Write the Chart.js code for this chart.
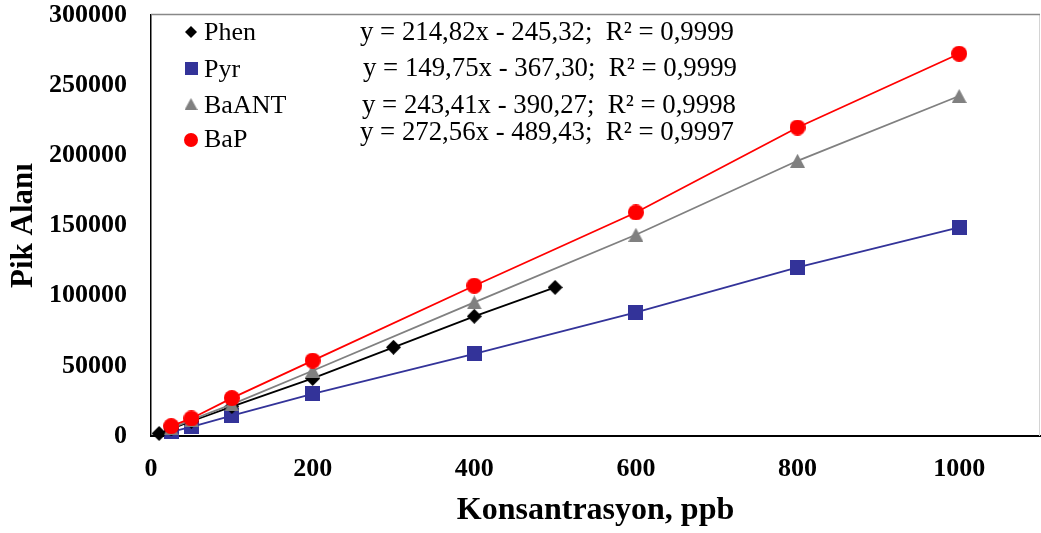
<!DOCTYPE html>
<html>
<head>
<meta charset="utf-8">
<script src="https://cdn.jsdelivr.net/npm/chart.js@4.4.1/dist/chart.umd.min.js"></script>
<style>
html,body{margin:0;padding:0;background:#fff;}
#wrap{width:1041px;height:533px;position:relative;}
</style>
</head>
<body>
<div id="wrap"><canvas id="c" width="1041" height="533"></canvas></div>
<script>
// ---- data ----
const seriesNames = ['Phen', 'Pyr', 'BaANT', 'BaP'];
const equations = [
  'y = 214,82x - 245,32;  R\u00B2 = 0,9999',
  'y = 149,75x - 367,30;  R\u00B2 = 0,9999',
  'y = 243,41x - 390,27;  R\u00B2 = 0,9998',
  'y = 272,56x - 489,43;  R\u00B2 = 0,9997'
];
const phenX  = [10, 25, 50, 100, 200, 300, 400, 500];
const phenY  = [1800, 5000, 10500, 21000, 41000, 63200, 85300, 105900];
const pyrX   = [25, 50, 100, 200, 400, 600, 800, 1000];
const pyrY   = [3000, 6500, 14500, 30000, 58500, 88100, 120100, 148600];
const baantX = [25, 50, 100, 200, 400, 600, 800, 1000];
const baantY = [5500, 11500, 22500, 46500, 95200, 143400, 196100, 242300];
const bapX   = [25, 50, 100, 200, 400, 600, 800, 1000];
const bapY   = [7000, 12500, 27000, 53700, 107100, 159300, 219800, 272400];
const xTickValues = [0, 200, 400, 600, 800, 1000];
const yTickValues = [0, 50000, 100000, 150000, 200000, 250000, 300000];
const xTitle = 'Konsantrasyon, ppb';
const yTitle = 'Pik Alanı';

const colors = ['#000000', '#333399', '#808080', '#FF0000'];
const FONT = '"Liberation Serif", "Times New Roman", serif';

// ---- marker images ----
function makeMarker(shape, w, h, color) {
  const c = document.createElement('canvas');
  c.width = w; c.height = h;
  const g = c.getContext('2d');
  g.fillStyle = color;
  g.beginPath();
  if (shape === 'diamond') {
    g.moveTo(w / 2, 0); g.lineTo(w, h / 2); g.lineTo(w / 2, h); g.lineTo(0, h / 2);
  } else if (shape === 'square') {
    g.rect(0, 0, w, h);
  } else if (shape === 'triangle') {
    g.moveTo(w / 2, 0); g.lineTo(w, h); g.lineTo(0, h);
  } else {
    g.arc(w / 2, h / 2, w / 2, 0, Math.PI * 2);
  }
  g.closePath();
  g.fill();
  return c;
}
const shapes = ['diamond', 'square', 'triangle', 'circle'];
const pointSizes = [[15, 15], [15, 15], [15, 14], [16, 16]];
const legendSizes = [[12, 12], [13, 13], [13, 12], [14, 14]];
const pointImgs = shapes.map((s, i) => makeMarker(s, pointSizes[i][0], pointSizes[i][1], colors[i]));
const legendImgs = shapes.map((s, i) => makeMarker(s, legendSizes[i][0], legendSizes[i][1], colors[i]));

function pts(xs, ys) { return xs.map((x, i) => ({ x: x, y: ys[i] })); }
const seriesData = [pts(phenX, phenY), pts(pyrX, pyrY), pts(baantX, baantY), pts(bapX, bapY)];
const drawOrder = [2, 3, 1, 0]; // BaP on top, then BaANT, Phen, Pyr

const datasets = seriesNames.map((n, i) => ({
  label: n,
  data: seriesData[i],
  showLine: true,
  borderColor: colors[i],
  backgroundColor: colors[i],
  borderWidth: 1.8,
  pointStyle: pointImgs[i],
  pointRadius: 7,
  pointHoverRadius: 7,
  tension: 0,
  order: drawOrder[i],
  clip: false
}));

// ---- plugins ----
const framePlugin = {
  id: 'frame',
  beforeDatasetsDraw(chart) {
    const a = chart.chartArea, ctx = chart.ctx;
    ctx.save();
    ctx.strokeStyle = '#d4d4d4'; ctx.lineWidth = 1;
    ctx.beginPath(); ctx.moveTo(a.right - 0.5, a.top); ctx.lineTo(a.right - 0.5, a.bottom); ctx.stroke();
    ctx.strokeStyle = '#888888'; ctx.lineWidth = 1.5;
    ctx.beginPath(); ctx.moveTo(a.left, a.top - 0.5); ctx.lineTo(a.right, a.top - 0.5); ctx.stroke();
    ctx.restore();
  }
};

const legendRows = [
  { my: 32, ty: 40, ex: 360, ey: 40 },
  { my: 68, ty: 77, ex: 363, ey: 76 },
  { my: 104, ty: 113, ex: 362, ey: 113 },
  { my: 140, ty: 147, ex: 360, ey: 140 }
];
const legendPlugin = {
  id: 'eqLegend',
  afterDraw(chart) {
    const ctx = chart.ctx;
    ctx.save();
    ctx.fillStyle = '#000';
    ctx.textBaseline = 'alphabetic';
    ctx.textAlign = 'left';
    seriesNames.forEach((n, i) => {
      const r = legendRows[i];
      const img = legendImgs[i];
      ctx.drawImage(img, 191 - img.width / 2, r.my - img.height / 2);
      ctx.font = '26px ' + FONT;
      ctx.fillText(n, 204, r.ty);
      ctx.font = '26.8px ' + FONT;
      ctx.fillText(equations[i], r.ex, r.ey);
    });
    ctx.restore();
  }
};

new Chart(document.getElementById('c'), {
  type: 'scatter',
  data: { datasets: datasets },
  options: {
    responsive: false,
    devicePixelRatio: 1,
    animation: false,
    layout: { autoPadding: false, padding: { top: 15, right: 1, left: 0, bottom: 0 } },
    plugins: { legend: { display: false }, tooltip: { enabled: false } },
    scales: {
      x: {
        type: 'linear',
        min: 0, max: 1100,
        afterFit(s) { s.height = 97; s.paddingLeft = 0; s.paddingRight = 0; s.paddingTop = 0; s.paddingBottom = 0; },
        afterBuildTicks(s) { s.ticks = xTickValues.map(v => ({ value: v })); },
        ticks: { font: { family: FONT, size: 26, weight: 'bold' }, color: '#000', padding: 18, maxRotation: 0,
                 callback: v => String(v) },
        grid: { display: false, drawTicks: false },
        border: { display: true, color: '#000', width: 2 },
        title: { display: true, text: xTitle, color: '#000',
                 font: { family: FONT, size: 32, weight: 'bold' }, padding: { top: 0, bottom: 3 } }
      },
      y: {
        type: 'linear',
        min: 0, max: 300000,
        afterFit(s) { s.width = 151; s.paddingLeft = 0; s.paddingRight = 0; s.paddingTop = 0; s.paddingBottom = 0; },
        afterBuildTicks(s) { s.ticks = yTickValues.map(v => ({ value: v })); },
        ticks: { font: { family: FONT, size: 26, weight: 'bold' }, color: '#000', padding: 24,
                 callback: v => String(v) },
        grid: { display: false, drawTicks: false },
        border: { display: true, color: '#000', width: 1.5 },
        title: { display: true, text: yTitle, color: '#000',
                 font: { family: FONT, size: 31, weight: 'bold' }, padding: { top: 5, bottom: 0 } }
      }
    }
  },
  plugins: [framePlugin, legendPlugin]
});
</script>
</body>
</html>
